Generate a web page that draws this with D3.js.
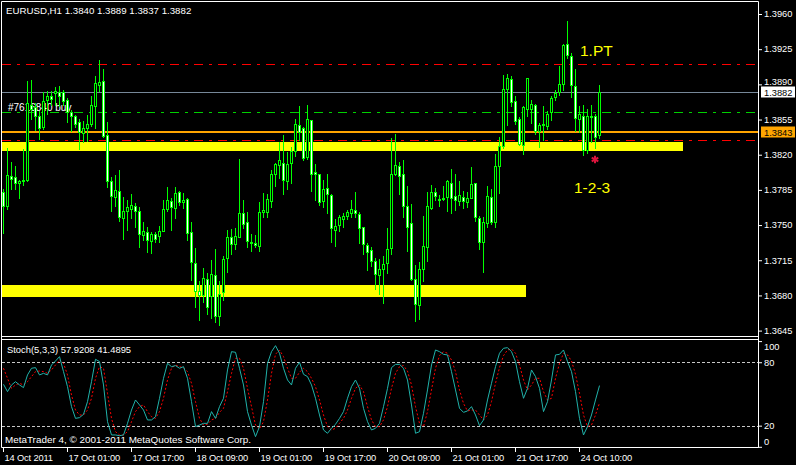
<!DOCTYPE html>
<html><head><meta charset="utf-8">
<script src="https://cdn.jsdelivr.net/npm/d3@7"></script>
<style>
body{margin:0;background:#000}
svg{display:block}
text{font-family:"Liberation Sans",Arial,sans-serif}
</style>
</head><body>
<svg id="c" width="796" height="465"></svg>
<script>
// ---------------- DATA ----------------
const headerText = "EURUSD,H1  1.3840 1.3889 1.3837 1.3882";
const opens = [1.3783,1.3769,1.3799,1.3798,1.3792,1.3794,1.3795,1.3869,1.3867,1.3859,
1.3848,1.3874,1.3878,1.3881,1.3882,1.3882,1.3874,1.3862,1.3859,1.3853,
1.3842,1.3847,1.3851,1.3868,1.3889,1.3893,1.3840,1.3794,1.3778,1.3784,
1.3757,1.3764,1.3766,1.3769,1.3764,1.3740,1.3743,1.3734,1.3741,1.3739,
1.3744,1.3766,1.3774,1.3767,1.3783,1.3773,1.3776,1.3743,1.3712,1.3684,
1.3680,1.3696,1.3679,1.3700,1.3660,1.3683,1.3717,1.3738,1.3731,1.3738,
1.3762,1.3753,1.3733,1.3732,1.3729,1.3763,1.3763,1.3774,1.3801,1.3810,
1.3812,1.3794,1.3812,1.3824,1.3850,1.3847,1.3818,1.3855,1.3803,1.3801,
1.3774,1.3787,1.3780,1.3745,1.3750,1.3756,1.3759,1.3762,1.3765,1.3761,
1.3748,1.3730,1.3725,1.3714,1.3700,1.3706,1.3712,1.3727,1.3801,1.3809,
1.3801,1.3769,1.3752,1.3696,1.3670,1.3706,1.3728,1.3767,1.3783,1.3776,
1.3776,1.3778,1.3792,1.3779,1.3774,1.3778,1.3773,1.3777,1.3792,1.3757,
1.3733,1.3752,1.3778,1.3753,1.3809,1.3829,1.3885,1.3895,1.3873,1.3856,
1.3830,1.3865,1.3865,1.3869,1.3844,1.3850,1.3849,1.3862,1.3877,1.3882,
1.3890,1.3930,1.3918,1.3888,1.3856,1.3859,1.3825,1.3859,1.3859,1.3840];
const highs = [1.3786,1.3827,1.3813,1.3809,1.3795,1.3826,1.3893,1.3894,1.3871,1.3863,
1.3882,1.3883,1.3883,1.3887,1.3888,1.3884,1.3876,1.3864,1.3860,1.3856,
1.3854,1.3860,1.3878,1.3898,1.3914,1.3905,1.3853,1.3798,1.3800,1.3805,
1.3778,1.3775,1.3781,1.3772,1.3768,1.3753,1.3748,1.3743,1.3743,1.3749,
1.3775,1.3788,1.3777,1.3788,1.3784,1.3782,1.3777,1.3753,1.3727,1.3694,
1.3707,1.3702,1.3715,1.3726,1.3694,1.3719,1.3745,1.3746,1.3747,1.3816,
1.3775,1.3763,1.3741,1.3740,1.3773,1.3782,1.3781,1.3805,1.3812,1.3833,
1.3840,1.3823,1.3828,1.3856,1.3868,1.3848,1.3869,1.3855,1.3811,1.3801,
1.3795,1.3801,1.3781,1.3756,1.3760,1.3762,1.3765,1.3775,1.3783,1.3763,
1.3748,1.3732,1.3728,1.3717,1.3716,1.3719,1.3747,1.3837,1.3841,1.3813,
1.3815,1.3789,1.3771,1.3710,1.3713,1.3759,1.3783,1.3790,1.3787,1.3780,
1.3789,1.3795,1.3806,1.3801,1.3794,1.3784,1.3783,1.3808,1.3792,1.3759,
1.3758,1.3789,1.3786,1.3821,1.3838,1.3899,1.3900,1.3898,1.3878,1.3858,
1.3868,1.3896,1.3874,1.3870,1.3852,1.3868,1.3863,1.3878,1.3884,1.3908,
1.3930,1.3953,1.3921,1.3905,1.3868,1.3869,1.3865,1.3869,1.3861,1.3889];
const lows = [1.3742,1.3766,1.3786,1.3786,1.3777,1.3790,1.3794,1.3856,1.3845,1.3836,
1.3846,1.3861,1.3869,1.3869,1.3868,1.3869,1.3853,1.3844,1.3848,1.3826,
1.3833,1.3834,1.3849,1.3847,1.3883,1.3838,1.3788,1.3764,1.3769,1.3754,
1.3736,1.3745,1.3757,1.3748,1.3728,1.3735,1.3723,1.3722,1.3733,1.3733,
1.3744,1.3764,1.3745,1.3757,1.3770,1.3767,1.3735,1.3695,1.3668,1.3656,
1.3673,1.3662,1.3658,1.3654,1.3651,1.3675,1.3703,1.3721,1.3726,1.3738,
1.3747,1.3728,1.3724,1.3728,1.3724,1.3758,1.3758,1.3768,1.3789,1.3797,
1.3781,1.3786,1.3792,1.3819,1.3835,1.3815,1.3816,1.3784,1.3775,1.3770,
1.3768,1.3762,1.3733,1.3729,1.3744,1.3748,1.3756,1.3758,1.3758,1.3732,
1.3721,1.3705,1.3709,1.3686,1.3681,1.3672,1.3702,1.3721,1.3800,1.3781,
1.3758,1.3724,1.3695,1.3655,1.3657,1.3694,1.3714,1.3766,1.3775,1.3769,
1.3775,1.3764,1.3762,1.3765,1.3770,1.3767,1.3768,1.3777,1.3754,1.3726,
1.3703,1.3748,1.3751,1.3748,1.3782,1.3827,1.3850,1.3868,1.3851,1.3830,
1.3821,1.3859,1.3852,1.3841,1.3828,1.3835,1.3846,1.3855,1.3874,1.3879,
1.3884,1.3916,1.3877,1.3844,1.3843,1.3820,1.3822,1.3833,1.3827,1.3837];
const closes = [1.3769,1.3800,1.3796,1.3792,1.3794,1.3795,1.3871,1.3865,1.3859,1.3847,
1.3873,1.3878,1.3875,1.3883,1.3878,1.3873,1.3862,1.3859,1.3851,1.3843,
1.3847,1.3851,1.3869,1.3891,1.3892,1.3839,1.3794,1.3779,1.3785,1.3758,
1.3764,1.3768,1.3770,1.3764,1.3741,1.3744,1.3735,1.3741,1.3736,1.3744,
1.3766,1.3775,1.3768,1.3782,1.3773,1.3775,1.3742,1.3713,1.3684,1.3680,
1.3697,1.3668,1.3701,1.3660,1.3681,1.3716,1.3738,1.3731,1.3739,1.3762,
1.3751,1.3734,1.3732,1.3730,1.3763,1.3765,1.3776,1.3801,1.3811,1.3815,
1.3795,1.3811,1.3824,1.3851,1.3843,1.3817,1.3856,1.3801,1.3801,1.3773,
1.3786,1.3781,1.3747,1.3749,1.3758,1.3759,1.3763,1.3766,1.3762,1.3747,
1.3731,1.3723,1.3714,1.3701,1.3706,1.3711,1.3726,1.3801,1.3810,1.3799,
1.3769,1.3748,1.3696,1.3671,1.3706,1.3729,1.3769,1.3783,1.3779,1.3775,
1.3777,1.3794,1.3777,1.3775,1.3780,1.3774,1.3777,1.3791,1.3758,1.3733,
1.3753,1.3779,1.3753,1.3809,1.3829,1.3885,1.3896,1.3872,1.3854,1.3831,
1.3867,1.3896,1.3870,1.3844,1.3850,1.3851,1.3861,1.3876,1.3881,1.3890,
1.3929,1.3919,1.3889,1.3857,1.3861,1.3825,1.3859,1.3858,1.3838,1.3882];
const stochMain = [59.1,52.2,58.5,61.6,58.5,56.0,68.0,74.3,74.9,68.0,
69.5,68.0,77.4,81.2,85.3,71.1,56.9,38.0,26.9,27.6,
30.7,42.7,61.6,82.8,80.6,58.5,23.8,11.2,11.2,10.5,
11.2,22.2,34.8,44.3,39.6,34.8,25.4,25.4,28.5,45.9,
64.8,79.0,75.8,76.8,74.3,75.8,64.8,42.7,19.1,20.6,
22.2,22.2,33.3,26.9,38.0,45.9,72.7,90.0,89.4,74.3,
58.5,33.3,20.6,9.6,19.1,42.7,79.0,90.0,95.7,88.5,
74.3,63.2,58.5,74.3,79.9,68.6,66.4,58.5,45.9,30.1,
15.9,12.8,17.5,21.3,26.9,33.3,45.9,56.9,63.2,55.3,
36.4,23.8,15.9,17.5,22.2,38.0,55.3,74.9,78.0,78.0,
74.3,63.2,39.6,12.8,14.3,31.7,53.8,77.4,91.6,90.0,
87.5,86.9,71.1,53.8,36.4,32.6,33.9,38.0,30.1,20.0,
25.4,44.3,60.1,75.8,88.5,93.2,93.8,90.0,80.6,61.6,
45.9,55.3,72.7,66.4,55.3,33.3,42.7,63.2,86.9,87.5,
91.6,80.6,71.1,52.2,26.9,11.2,19.1,30.1,44.3,57.9208];
const stochSignal = [74.3,64.8,55.3,58.5,60.1,58.5,61.6,66.4,71.1,71.7,
71.1,69.5,72.7,77.4,82.1,79.0,68.0,49.0,34.8,30.1,
30.1,34.8,45.9,64.8,75.8,74.3,50.6,26.9,14.3,11.2,
11.2,14.3,23.8,33.3,38.0,39.6,33.3,28.5,26.9,33.3,
45.9,63.2,74.3,77.4,75.8,74.9,71.1,60.1,42.7,26.9,
20.6,21.3,25.4,26.9,32.6,36.4,52.2,69.5,83.7,83.7,
74.3,55.3,38.0,20.6,16.9,23.8,44.3,69.5,87.5,91.6,
85.3,74.3,64.8,64.8,70.5,74.3,71.1,64.8,56.9,44.3,
30.1,19.1,15.9,17.5,22.2,26.9,34.8,45.9,55.3,58.5,
52.2,38.0,25.4,19.1,19.1,25.4,38.0,55.3,69.5,75.8,
76.8,71.7,58.5,38.0,22.2,19.1,33.3,53.8,74.3,86.2,
90.0,88.5,82.1,71.1,53.8,41.1,33.9,34.8,34.8,30.1,
25.4,30.1,42.7,60.1,74.9,86.2,91.6,92.6,88.5,77.4,
63.2,53.8,58.5,64.8,64.8,52.2,44.3,45.9,64.8,79.0,
88.5,86.9,81.2,68.6,50.6,30.1,19.1,20.6,30.1,41.4895];
const stochLabel = "Stoch(5,3,3) 57.9208 41.4895";
const priceTicks = [1.3960,1.3925,1.3890,1.3855,1.3820,1.3785,1.3750,1.3715,1.3680,1.3645];
const timeTickIdx = [0,16,32,48,64,80,96,112,128,144];
const timeTickLabels = ["14 Oct 2011","17 Oct 01:00","17 Oct 17:00","18 Oct 09:00","19 Oct 01:00",
  "19 Oct 17:00","20 Oct 09:00","21 Oct 01:00","21 Oct 17:00","24 Oct 10:00"];
const stochTicks = [100,80,20,0];
const stochLevels = [80,20];
const bidPrice = 1.3882;
const orderPrice = 1.3843;
const orderLabel = "#7616840 buy";
const orderLinePrice = 1.3862;
const stopLines = [1.3910, 1.3835];
const zoneTop = [1.3833, 1.3690];
const zoneBottom = [1.3824, 1.3678];
const zoneEnd = [170, 130.75];
const notes = [{t:"1.PT", i:144.25, p:1.3918}, {t:"1-2-3", i:142.75, p:1.3782}];
const markerPos = {i:148, p:1.38153};
const copyright = "MetaTrader 4, \u00A9 2001-2011 MetaQuotes Software Corp.";

// ---------------- DRAW ----------------
const svg = d3.select("#c");
svg.append("rect").attr("width",796).attr("height",465).attr("fill","#000");

const FONT = '"Liberation Sans",Arial,sans-serif';
const n = closes.length;
const x = d3.scaleLinear().domain([0, n-1]).range([3, 3 + 4*(n-1)]);
const y = d3.scaleLinear().domain([1.3645, 1.3960]).range([330.6, 14]);
const ys = d3.scaleLinear().domain([0, 100]).range([446.8, 341.1]);

const defs = svg.append("defs");
defs.append("clipPath").attr("id","cm").append("rect").attr("x",2).attr("y",2).attr("width",756).attr("height",334);
defs.append("clipPath").attr("id","cs").append("rect").attr("x",2).attr("y",340).attr("width",756).attr("height",107);

const main = svg.append("g").attr("clip-path","url(#cm)");

// zones (yellow rectangles)
zoneTop.forEach((t,k)=>{
  main.append("rect").attr("x",0).attr("y",Math.round(y(t)))
    .attr("width",x(zoneEnd[k]))
    .attr("height",Math.round(y(zoneBottom[k]))-Math.round(y(t)))
    .attr("fill","#FFFF00");
});

// order label text
main.append("text").attr("x",8).attr("y",110.5).attr("fill","#fff")
  .attr("font-size",10).attr("font-family",FONT).text(orderLabel);

// horizontal lines
const hline = (p, color, w, dash) => {
  const yy = Math.round(y(p)) + (w%2 ? 0.5 : 0);
  const l = main.append("line").attr("x1",2).attr("x2",758).attr("y1",yy).attr("y2",yy)
    .attr("stroke",color).attr("stroke-width",w);
  if (dash) l.attr("stroke-dasharray",dash);
};
stopLines.forEach(p=>hline(p,"#FF0000",1,"9,6,3,6"));
hline(orderLinePrice,"#00D000",1,"9,6,3,6");
hline(bidPrice,"#778899",1,null);
hline(orderPrice,"#FFA500",2,null);

// candles
const cg = main.append("g");
for (let i=0;i<n;i++){
  const cx = Math.round(x(i));
  const yh = Math.round(y(highs[i])), yl = Math.round(y(lows[i]));
  cg.append("rect").attr("x",cx).attr("y",yh).attr("width",1).attr("height",yl-yh+1).attr("fill","#00FF00");
  const top = Math.round(y(Math.max(opens[i],closes[i])));
  const bot = Math.round(y(Math.min(opens[i],closes[i])));
  const h = bot-top+1;
  cg.append("rect").attr("x",cx-1).attr("y",top).attr("width",3).attr("height",h).attr("fill","#00FF00");
  if (h>=3) {
    cg.append("rect").attr("x",cx).attr("y",top+1).attr("width",1).attr("height",h-2)
      .attr("fill", closes[i]>=opens[i] ? "#000" : "#fff");
  }
}

// notes
notes.forEach(d=>{
  main.append("text").attr("x",x(d.i)).attr("y",y(d.p)).attr("fill","#FFFF00")
    .attr("font-size",15.5).attr("font-family",FONT).text(d.t);
});
main.append("path").attr("d",d3.symbol(d3.symbolAsterisk,40)())
  .attr("transform",`translate(${x(markerPos.i)},${y(markerPos.p)})`)
  .attr("stroke","#DC143C").attr("stroke-width",2).attr("fill","none");

// header
svg.append("text").attr("x",6).attr("y",14).attr("fill","#fff").attr("font-size",9.7)
  .attr("font-family",FONT).text(headerText);

// price axis
const pa = svg.append("g").attr("transform","translate(758,0)")
  .call(d3.axisRight(y).tickValues(priceTicks).tickFormat(d3.format(".4f")).tickSize(4).tickPadding(2).tickSizeOuter(0));
pa.select(".domain").remove();
pa.selectAll("line").attr("stroke","#fff");
pa.selectAll("text").attr("fill","#fff").attr("font-size",9.3).attr("font-family",FONT)
  .attr("dy", d => Math.abs(d-1.3890)<1e-6 ? "0.0em" : "0.3em");

// price boxes
const pbox = (p, bg) => {
  const yc = Math.round(y(p));
  svg.append("rect").attr("x",761).attr("y",yc-5.5).attr("width",34).attr("height",11).attr("fill",bg);
  svg.append("text").attr("x",764).attr("y",yc+3.5).attr("fill","#000").attr("font-size",9.3)
    .attr("font-family",FONT).text(d3.format(".4f")(p));
};
pbox(bidPrice,"#FFFFFF");
pbox(orderPrice,"#FFA500");

// stochastic panel
const sp = svg.append("g").attr("clip-path","url(#cs)");
stochLevels.forEach(v=>{
  const yy = Math.round(ys(v))+0.5;
  sp.append("line").attr("x1",2).attr("x2",758).attr("y1",yy).attr("y2",yy)
    .attr("stroke","#C8C8C8").attr("stroke-dasharray","3,2");
});
const line = arr => d3.line().x((d,i)=>x(i)+0.5).y(d=>ys(d))(arr);
sp.append("path").attr("d",line(stochSignal)).attr("fill","none").attr("stroke","#FF0000")
  .attr("stroke-width",1).attr("stroke-dasharray","2,2");
sp.append("path").attr("d",line(stochMain)).attr("fill","none").attr("stroke","#20B2AA").attr("stroke-width",1);

svg.append("text").attr("x",7).attr("y",353).attr("fill","#fff").attr("font-size",9.4)
  .attr("font-family",FONT).text(stochLabel);
svg.append("text").attr("x",5).attr("y",443).attr("fill","#fff").attr("font-size",9.9)
  .attr("font-family",FONT).text(copyright);

const sa = svg.append("g").attr("transform","translate(758,0)")
  .call(d3.axisRight(ys).tickValues(stochTicks).tickSize(4).tickPadding(2).tickSizeOuter(0));
sa.select(".domain").remove();
sa.selectAll("line").attr("stroke","#fff");
sa.selectAll("text").attr("fill","#fff").attr("font-size",9.3).attr("font-family",FONT)
  .attr("dy", d => d===100 ? "0.85em" : d===0 ? "-0.3em" : "0.32em");

// time axis
const ta = svg.append("g").attr("transform","translate(0,447)")
  .call(d3.axisBottom(x).tickValues(timeTickIdx).tickFormat((d,i)=>timeTickLabels[i]).tickSize(5).tickPadding(2).tickSizeOuter(0));
ta.select(".domain").remove();
ta.selectAll("line").attr("stroke","#fff");
ta.selectAll("text").attr("fill","#fff").attr("font-size",9.3).attr("font-family",FONT)
  .attr("text-anchor","start").attr("x",1).attr("letter-spacing",-0.15);

// frames
const fr = svg.append("g").attr("stroke","#fff").attr("stroke-width",1).attr("fill","none");
fr.append("path").attr("d","M1.5,1.5H758.5V447.5H1.5Z");
fr.append("path").attr("d","M1.5,336.5H758.5M1.5,339.5H758.5");
</script>
</body></html>
